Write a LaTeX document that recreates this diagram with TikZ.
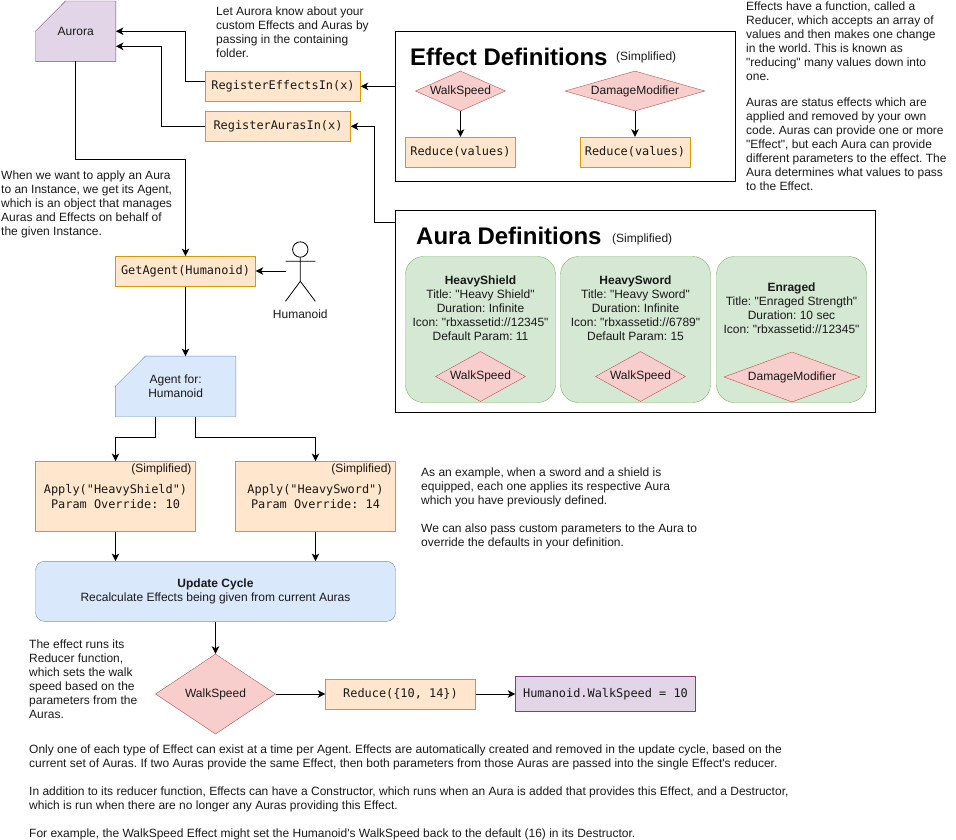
\documentclass[tikz,border=0pt]{standalone}
\usepackage{fontspec}
\defaultfontfeatures[\rmfamily]{}
\setmainfont{Liberation Sans}
\setmonofont{DejaVu Sans Mono}
\frenchspacing
\usetikzlibrary{positioning,arrows.meta,shapes.geometric}

\begin{document}
\begin{tikzpicture}[x=1pt,y=-1pt,
  every node/.style={font=\fontsize{12}{14}\selectfont, text=black!90},
  snip/.style={rectangle, inner sep=0pt, minimum height=60pt},
  purple/.style={draw=violet!50!gray, fill={rgb,255:red,225;green,213;blue,231}},
  paleblue/.style={draw={rgb,255:red,108;green,142;blue,191}, fill={rgb,255:red,218;green,232;blue,252}},
  code/.style={draw={rgb,255:red,215;green,155;blue,0}, fill={rgb,255:red,255;green,230;blue,204}, rectangle,
    inner sep=2pt, minimum height=30pt, font=\ttfamily\fontsize{11.9}{15}\selectfont},
  effect/.style={diamond, draw={rgb,255:red,184;green,84;blue,80}, fill={rgb,255:red,248;green,206;blue,204},
    inner sep=0pt, minimum height=40pt},
  card/.style={draw={rgb,255:red,130;green,179;blue,102}, fill={rgb,255:red,213;green,232;blue,212},
    rounded corners=18pt, rectangle, minimum width=150pt, minimum height=146pt},
  group/.style={draw, line width=1pt, rectangle},
  note/.style={align=left, anchor=west, inner sep=0pt},
  heading/.style={font=\bfseries\fontsize{24}{28}\selectfont, text=black, inner sep=0pt},
  link/.style={-{Stealth[length=7.5pt,width=7.5pt,inset=2pt]}, line width=1pt, black}]
\useasboundingbox (0,0) rectangle (956,839);
\node[snip, minimum width=80pt] (aurora) at (75.7,31.2) {};
\node[snip, minimum width=120pt] (agent) at (175.6,386.3) {};
\foreach \n/\s in {aurora/purple,agent/paleblue} {
  \draw[\s] (\n.west) -- ([xshift=30pt]\n.north west) -- (\n.north east) -- (\n.south east) -- (\n.south west) -- cycle;
}
\node[inner sep=0pt] (auroralabel) at (aurora) {Aurora};
\node[align=center, inner sep=0pt] (agentlabel) at (agent) {Agent for:\\Humanoid};
\node[code, minimum width=155pt] (regeffects) at (283,86.3) {RegisterEffectsIn(x)};
\node[code, minimum width=145pt] (regauras) at (278,126.3) {RegisterAurasIn(x)};
\node[note] (lettext) at (216,32.7) {Let Aurora know about your\\custom Effects and Auras by\\passing in the containing\\folder.};
% effect definitions
\node[group, minimum width=340pt, minimum height=150pt] (effectdefs) at (565.5,106.5) {};
\node[heading, anchor=west] (effecttitle) at (410,57) {Effect Definitions};
\node[anchor=west, inner sep=0pt] (effectnote) at (616,57) {(Simplified)};
\node[effect, aspect=2.25, minimum width=90pt] (walkdef) at (460.5,91) {WalkSpeed};
\node[effect, aspect=3.5, minimum width=140pt] (damagedef) at (635,91) {DamageModifier};
\node[code, minimum width=110pt] (reducewalk) at (460.5,152) {Reduce(values)};
\node[code, minimum width=110pt] (reducedamage) at (635,152) {Reduce(values)};
\foreach \i/\j in {walkdef/reducewalk,damagedef/reducedamage} {
  \draw[link] (\i) -- (\j);
}
\node[note] (effecttext) at (746,41) {Effects have a function, called a\\Reducer, which accepts an array of\\values and then makes one change\\in the world. This is known as\\"reducing" many values down into\\one.};
\node[note] (auratext) at (746,144) {Auras are status effects which are\\applied and removed by your own\\code. Auras can provide one or more\\"Effect", but each Aura can provide\\different parameters to the effect. The\\Aura determines what values to pass\\to the Effect.};
% aura definitions
\node[group, minimum width=480pt, minimum height=202pt] (auradefs) at (635.5,311.5) {};
\node[heading, anchor=west] (auratitle) at (416,236) {Aura Definitions};
\node[anchor=west, inner sep=0pt] (auranote) at (612,239) {(Simplified)};
\foreach \c/\x in {shield/480.5,sword/635.5,enraged/791.5} {
  \node[card] (\c) at (\x,329.5) {};
}
\node[align=center, anchor=north, inner sep=0pt] (shieldtext) at (480.5,276) {\textbf{HeavyShield}\\Title: "Heavy Shield"\\Duration: Infinite\\Icon: "rbxassetid://12345"\\Default Param: 11};
\node[align=center, anchor=north, inner sep=0pt] (swordtext) at (635.5,276) {\textbf{HeavySword}\\Title: "Heavy Sword"\\Duration: Infinite\\Icon: "rbxassetid://6789"\\Default Param: 15};
\node[align=center, anchor=north, inner sep=0pt] (enragedtext) at (791.5,283) {\textbf{Enraged}\\Title: "Enraged Strength"\\Duration: 10 sec\\Icon: "rbxassetid://12345"};
\node[effect, aspect=1.8, minimum width=90pt, minimum height=50pt] (shieldwalk) at (480.5,376.5) {WalkSpeed};
\node[effect, aspect=1.8, minimum width=90pt, minimum height=50pt] (swordwalk) at (640.5,376.5) {WalkSpeed};
\node[effect, aspect=2.72, minimum width=136pt, minimum height=50pt] (enragedmod) at (792,377) {DamageModifier};
% registering
\draw[link] (effectdefs.west |- regeffects) -- (regeffects);
\draw[link] ([yshift=89.5pt]auradefs.west) -| (374,126.3) -- (regauras);
\draw[link] ([yshift=4.6pt]regeffects.west) -- ++(-19.6,0) |- (aurora.east);
\draw[link] (regauras.west) -- ++(-43.8,0) |- ([yshift=-15.1pt]aurora.east);
% getting the agent
\node[note] (agenttext) at (1,204.7) {When we want to apply an Aura\\to an Instance, we get its Agent,\\which is an object that manages\\Auras and Effects on behalf of\\the given Instance.};
\node[code, minimum width=140pt] (getagent) at (185.5,271.3) {GetAgent(Humanoid)};
\draw[link] (aurora.south) |- (185.5,159.3) -- (getagent);
\draw[link] (getagent) -- (getagent |- agent.north);
% stick figure
\node[draw, circle, inner sep=0pt, minimum size=15.4pt, line width=.8pt] (head) at (300.3,249.5) {};
\coordinate (hips) at (300.3,281.3);
\coordinate (hand) at (285.7,271);
\draw[line width=.8pt] (head.south) -- (hips) (285.5,261.3) -- (315.3,261.3)
  (285.5,301.3) -- (hips) -- (315.3,301.3);
\node[inner sep=0pt] (humanoid) at (300.3,314) {Humanoid};
\draw[link] (hand) -- (hand -| getagent.east);
% applying
\foreach \c/\x/\txt in {shieldapply/115.5/{Apply("HeavyShield")\\Param Override: 10},swordapply/315.5/{Apply("HeavySword")\\Param Override: 14}} {
  \node[code, minimum width=160pt, minimum height=70pt, align=center] (\c) at (\x,496.3) {\txt};
  \node[anchor=north east, inner sep=0pt] (\c note) at ([xshift=-4pt,yshift=-2.5pt]\c.north east) {(Simplified)};
}
\node[rectangle, rounded corners=9pt, paleblue,
  minimum width=360pt, minimum height=60pt, align=center] (update) at (215.5,591.3) {\textbf{Update Cycle}\\Recalculate Effects being given from current Auras};
\draw[link] ([xshift=-20pt]agent.south) -- ++(0,20.7) -| (shieldapply.north);
\draw[link] ([xshift=20pt]agent.south) -- ++(0,20.7) -| (swordapply.north);
\draw[link] (shieldapply.south) -- (shieldapply.south |- update.north);
\draw[link] (swordapply.south) -- (swordapply.south |- update.north);
\node[note] (exampletext) at (421,508) {As an example, when a sword and a shield is\\equipped, each one applies its respective Aura\\which you have previously defined.\\[14pt]We can also pass custom parameters to the Aura to\\override the defaults in your definition.};
% result
\node[effect, aspect=1.5, minimum width=120pt, minimum height=80pt] (walkrun) at (215.5,694) {WalkSpeed};
\node[code, minimum width=150pt] (reducerun) at (400.5,694) {Reduce(\{10, 14\})};
\node[code, purple, minimum width=180pt, minimum height=35pt] (walkresult) at (605.5,694) {Humanoid.WalkSpeed = 10};
\draw[link] (update.south) -- (walkrun.north);
\foreach \i/\j in {walkrun/reducerun,reducerun/walkresult} {
  \draw[link] (\i) -- (\j);
}
\node[note] (runtext) at (29,679) {The effect runs its\\Reducer function,\\which sets the walk\\speed based on the\\parameters from the\\Auras.};
\node[note] (closing) at (29,792) {Only one of each type of Effect can exist at a time per Agent. Effects are automatically created and removed in the update cycle, based on the\\current set of Auras. If two Auras provide the same Effect, then both parameters from those Auras are passed into the single Effect's reducer.\\[14pt]In addition to its reducer function, Effects can have a Constructor, which runs when an Aura is added that provides this Effect, and a Destructor,\\which is run when there are no longer any Auras providing this Effect.\\[14pt]For example, the WalkSpeed Effect might set the Humanoid's WalkSpeed back to the default (16) in its Destructor.};
\end{tikzpicture}
\end{document}
